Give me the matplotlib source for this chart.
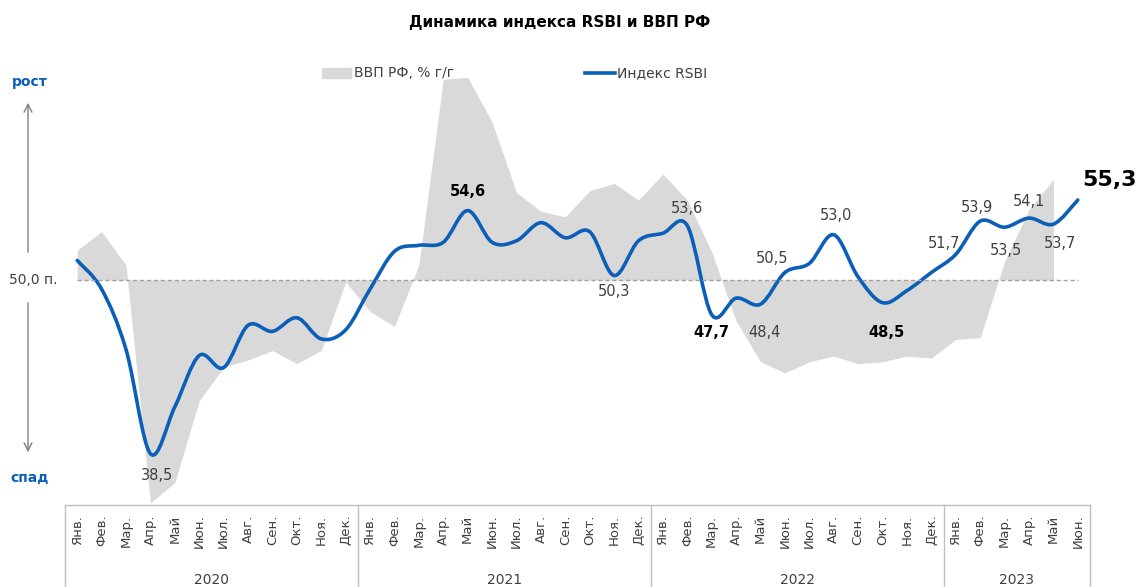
import matplotlib
matplotlib.use("Agg")
import matplotlib.pyplot as plt
import matplotlib.transforms as mtransforms
from matplotlib.path import Path
from matplotlib.patches import PathPatch, Rectangle
from matplotlib.lines import Line2D

plt.rcParams['font.family'] = ['DejaVu Sans']

# ------------------------------------------------------------
# Data
# ------------------------------------------------------------
months = ["Янв.", "Фев.", "Мар.", "Апр.", "Май", "Июн.",
          "Июл.", "Авг.", "Сен.", "Окт.", "Ноя.", "Дек."]
years = ["2020", "2021", "2022", "2023"]
months_per_year = [12, 12, 12, 6]

rsbi = [51.3, 49.4, 45.4, 38.5, 41.6, 45.0, 44.2, 47.0, 46.6, 47.5, 46.1, 46.7,
        49.4, 51.9, 52.3, 52.5, 54.6, 52.5, 52.6, 53.8, 52.8, 53.2, 50.3, 52.6,
        53.1, 53.6, 47.7, 48.8, 48.4, 50.5, 51.1, 53.0, 50.2, 48.5, 49.3, 50.5,
        51.7, 53.9, 53.5, 54.1, 53.7, 55.3]

# GDP, % y/y (monthly estimate), Jan 2020 - May 2023
gdp = [1.6, 2.6, 0.8, -12.0, -10.9, -6.5, -4.7, -4.3, -3.8, -4.5, -3.8, -0.1,
       -1.7, -2.5, 0.8, 10.8, 10.9, 8.5, 4.7, 3.7, 3.4, 4.8, 5.2, 4.3,
       5.7, 4.3, 1.5, -2.2, -4.4, -5.0, -4.4, -4.1, -4.5, -4.4, -4.1, -4.2,
       -3.2, -3.1, 1.0, 3.8, 5.4]

# which RSBI points get a value label
label_idx = [3, 16, 22, 25, 26, 28, 29, 31, 33, 36, 37, 38, 39, 40, 41]
bold_idx = [16, 26, 33, 41]

# label offsets in pixels (dx, dy)
label_off = {3: (7, -22), 16: (0, 19), 22: (0, -16), 25: (0, 17), 26: (0, -18),
             28: (4, -28), 29: (-13, 14), 31: (2, 19), 33: (4, -30), 36: (-12, 11),
             37: (-3, 14), 38: (1, -23), 39: (0, 17), 40: (7, -19), 41: (32, 20)}

BLUE = "#0b5fb8"
GREY = "#d9d9d9"
TXT = "#404040"
W, H = 1140, 587

month_labels = []
for n in months_per_year:
    month_labels += months[:n]
x = list(range(len(rsbi)))

fig = plt.figure(figsize=(W / 100, H / 100), dpi=100)
ax = fig.add_axes([65 / W, 1 - 505 / H, 1025 / W, 430 / H])
ax2 = ax.twinx()
ax.set_zorder(ax2.get_zorder() + 1)
ax.patch.set_visible(False)

# GDP area
ax2.fill_between(x[:len(gdp)], gdp, 0, color=GREY, lw=0)
ax2.set_ylim(-12.11, 11.03)
ax2.axis("off")

# 50 line
ax.plot(x, [50] * len(x), color="#a0a0a0", lw=1, ls=(0, (3, 2)))

# smoothed RSBI line (cubic bezier segments through the monthly points)
pts = list(zip(x, rsbi))
verts = [pts[0]]
codes = [Path.MOVETO]
for i in range(len(pts) - 1):
    p0 = pts[max(i - 1, 0)]
    p1 = pts[i]
    p2 = pts[i + 1]
    p3 = pts[min(i + 2, len(pts) - 1)]
    c1 = (p1[0] + (p2[0] - p0[0]) / 6, p1[1] + (p2[1] - p0[1]) / 6)
    c2 = (p2[0] - (p3[0] - p1[0]) / 6, p2[1] - (p3[1] - p1[1]) / 6)
    verts += [c1, c2, p2]
    codes += [Path.CURVE4] * 3
ax.add_patch(PathPatch(Path(verts, codes), fill=False, edgecolor=BLUE, lw=2.6,
                       capstyle="round", joinstyle="round"))

ax.set_xlim(-0.5, len(x) - 0.5)
ax.set_ylim(35.1, 63.58)
for s in ax.spines.values():
    s.set_visible(False)
ax.set_yticks([])
ax.set_xticks(x)
ax.set_xticklabels(month_labels, rotation=90, fontsize=9.5, color=TXT)
ax.tick_params(axis="x", length=0, pad=7)

# value labels
for i in label_idx:
    txt = f"{rsbi[i]:.1f}".replace(".", ",")
    bold = i in bold_idx
    size = 16 if i == 41 else 10.5
    ax.annotate(txt, (i, rsbi[i]), xytext=label_off[i], textcoords="offset pixels",
                ha="center", va="center", fontsize=size,
                fontweight="bold" if bold else "normal",
                color="black" if bold else TXT)

# category box with year groups
trans = mtransforms.blended_transform_factory(ax.transData, ax.transAxes)
box_c = "#bfbfbf"
ax.plot([-0.5, len(x) - 0.5], [0, 0], color=box_c, lw=1, transform=trans, clip_on=False)
start = 0
bounds = [-0.5]
for yr, n in zip(years, months_per_year):
    ax.text(start + (n - 1) / 2, -0.174, yr, transform=trans, ha="center", va="center",
            fontsize=10, color=TXT)
    start += n
    bounds.append(start - 0.5)
for b in bounds:
    ax.plot([b, b], [0, -0.3], color=box_c, lw=1, transform=trans, clip_on=False)

# title
fig.text(560 / W, 1 - 22 / H, "Динамика индекса RSBI и ВВП РФ", ha="center", va="center",
         fontsize=11, fontweight="bold", color="black")

# legend
fig.patches.append(Rectangle((322 / W, 1 - 78 / H), 29 / W, 10 / H, color=GREY,
                             transform=fig.transFigure))
fig.text(354 / W, 1 - 73 / H, "ВВП РФ, % г/г", ha="left", va="center", fontsize=10, color=TXT)
fig.lines.append(Line2D([585 / W, 615 / W], [1 - 73 / H, 1 - 73 / H], color=BLUE, lw=2.6,
                        transform=fig.transFigure))
fig.text(617 / W, 1 - 73 / H, "Индекс RSBI", ha="left", va="center", fontsize=10, color=TXT)

# growth / decline arrows on the left
fig.text(30 / W, 1 - 82 / H, "рост", ha="center", va="center", fontsize=10,
         fontweight="bold", color=BLUE)
fig.text(30 / W, 1 - 478 / H, "спад", ha="center", va="center", fontsize=10,
         fontweight="bold", color=BLUE)
fig.text(33 / W, 1 - 280 / H, "50,0 п.", ha="center", va="center", fontsize=10, color=TXT)
arr = dict(arrowstyle="->", color="#808080", lw=1, mutation_scale=14)
fig.add_artist(matplotlib.patches.FancyArrowPatch((28 / W, 1 - 255 / H), (28 / W, 1 - 100 / H),
                                                  transform=fig.transFigure, **arr))
fig.add_artist(matplotlib.patches.FancyArrowPatch((28 / W, 1 - 300 / H), (28 / W, 1 - 455 / H),
                                                  transform=fig.transFigure, **arr))

fig.savefig("out.png", dpi=100)
